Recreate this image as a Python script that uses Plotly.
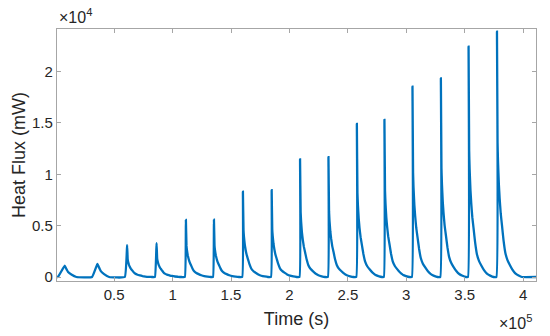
import plotly.graph_objects as go

# ---- data ----
peak_time_s = [7700, 35700, 61100, 86300, 111400, 135400, 160200, 184800,
               209100, 233400, 257700, 281300, 305300, 329600, 353300, 377600]
peak_heat_flux_mW = [1100, 1270, 3100, 3300, 5550, 5580, 8300, 8450,
                     11460, 11660, 14900, 15300, 18530, 19350, 22420, 23890]
rise_duration_s = [5800, 4600, 2000, 1400, 900, 800, 600, 600,
                   500, 500, 500, 500, 500, 500, 500, 500]
# decay shape after a peak (time after peak, fraction of peak)
decay_offset_s = [0, 500, 900, 1600, 2300, 3200, 4300, 5600, 7100, 8900, 10900, 13200, 15700, 18500, 21400]
decay_fraction = [1.0, 0.55, 0.47, 0.38, 0.32, 0.26, 0.21, 0.15, 0.10, 0.07, 0.05, 0.03, 0.015, 0.006, 0.0]
# the two first, small pulses have a rounder shape
small_decay_offset_s = [0, 1000, 2900, 5700, 10000]
small_decay_fraction = [1.0, 0.8, 0.45, 0.22, 0.0]
start_time_s = 1100
end_time_s = 411000
baseline_mW = 0

x_tick_vals = [50000, 100000, 150000, 200000, 250000, 300000, 350000, 400000]
x_tick_text = ["0.5", "1", "1.5", "2", "2.5", "3", "3.5", "4"]
y_tick_vals = [0, 5000, 10000, 15000, 20000]
y_tick_text = ["0", "0.5", "1", "1.5", "2"]

# ---- assemble the trace ----
time_s = [start_time_s]
flux = [baseline_mW]
for i, (tp, pk, rd) in enumerate(zip(peak_time_s, peak_heat_flux_mW, rise_duration_s)):
    time_s.append(tp - rd)
    flux.append(baseline_mW)
    if i < 2:
        offs, fracs = small_decay_offset_s, small_decay_fraction
    else:
        offs, fracs = decay_offset_s, decay_fraction
    for o, f in zip(offs, fracs):
        time_s.append(tp + o)
        flux.append(baseline_mW + pk * f)
time_s.append(end_time_s)
flux.append(baseline_mW)

FONT = "Liberation Sans, Arial, sans-serif"
AXIS_GRAY = "#a6a6a6"
TEXT = "#262626"

fig = go.Figure()
fig.add_trace(go.Scatter(x=time_s, y=flux, mode="lines",
                         line=dict(color="#0072BD", width=2.3, shape="spline", smoothing=0.3),
                         showlegend=False, hoverinfo="skip"))

fig.update_layout(
    width=550, height=336,
    margin=dict(l=57, r=14, t=29, b=55),
    paper_bgcolor="white", plot_bgcolor="white",
    font=dict(family=FONT, color=TEXT, size=15),
)
fig.update_xaxes(
    range=[start_time_s, end_time_s], automargin=False,
    tickvals=x_tick_vals, ticktext=x_tick_text,
    ticks="inside", ticklen=4, tickcolor=AXIS_GRAY, tickwidth=1,
    showline=True, linecolor=AXIS_GRAY, linewidth=1.3, mirror="allticks",
    showgrid=False, zeroline=False,
    tickfont=dict(size=15, color=TEXT),
    title=dict(text="Time (s)", font=dict(size=18, color=TEXT), standoff=10),
)
fig.update_yaxes(
    range=[-390, 24150], automargin=False,
    tickvals=y_tick_vals, ticktext=y_tick_text,
    ticks="inside", ticklen=4, tickcolor=AXIS_GRAY, tickwidth=1,
    showline=True, linecolor=AXIS_GRAY, linewidth=1.3, mirror="allticks",
    showgrid=False, zeroline=False,
    tickfont=dict(size=15, color=TEXT),
    title=dict(text="Heat Flux (mW)", font=dict(size=18, color=TEXT), standoff=1),
)
fig.add_annotation(text="×10<sup>4</sup>", xref="paper", yref="paper",
                   x=0.0, y=1.0, xanchor="left", yanchor="bottom", yshift=1,
                   showarrow=False, font=dict(size=16, color=TEXT))
fig.add_annotation(text="×10<sup>5</sup>", xref="paper", yref="paper",
                   x=1.0, y=0.0, xanchor="right", yanchor="top", yshift=-29, xshift=-2,
                   showarrow=False, font=dict(size=16, color=TEXT))

fig.write_html("out.html", config={"displayModeBar": False},
               post_script="document.body.style.margin='0px';document.body.style.overflow='hidden';")
